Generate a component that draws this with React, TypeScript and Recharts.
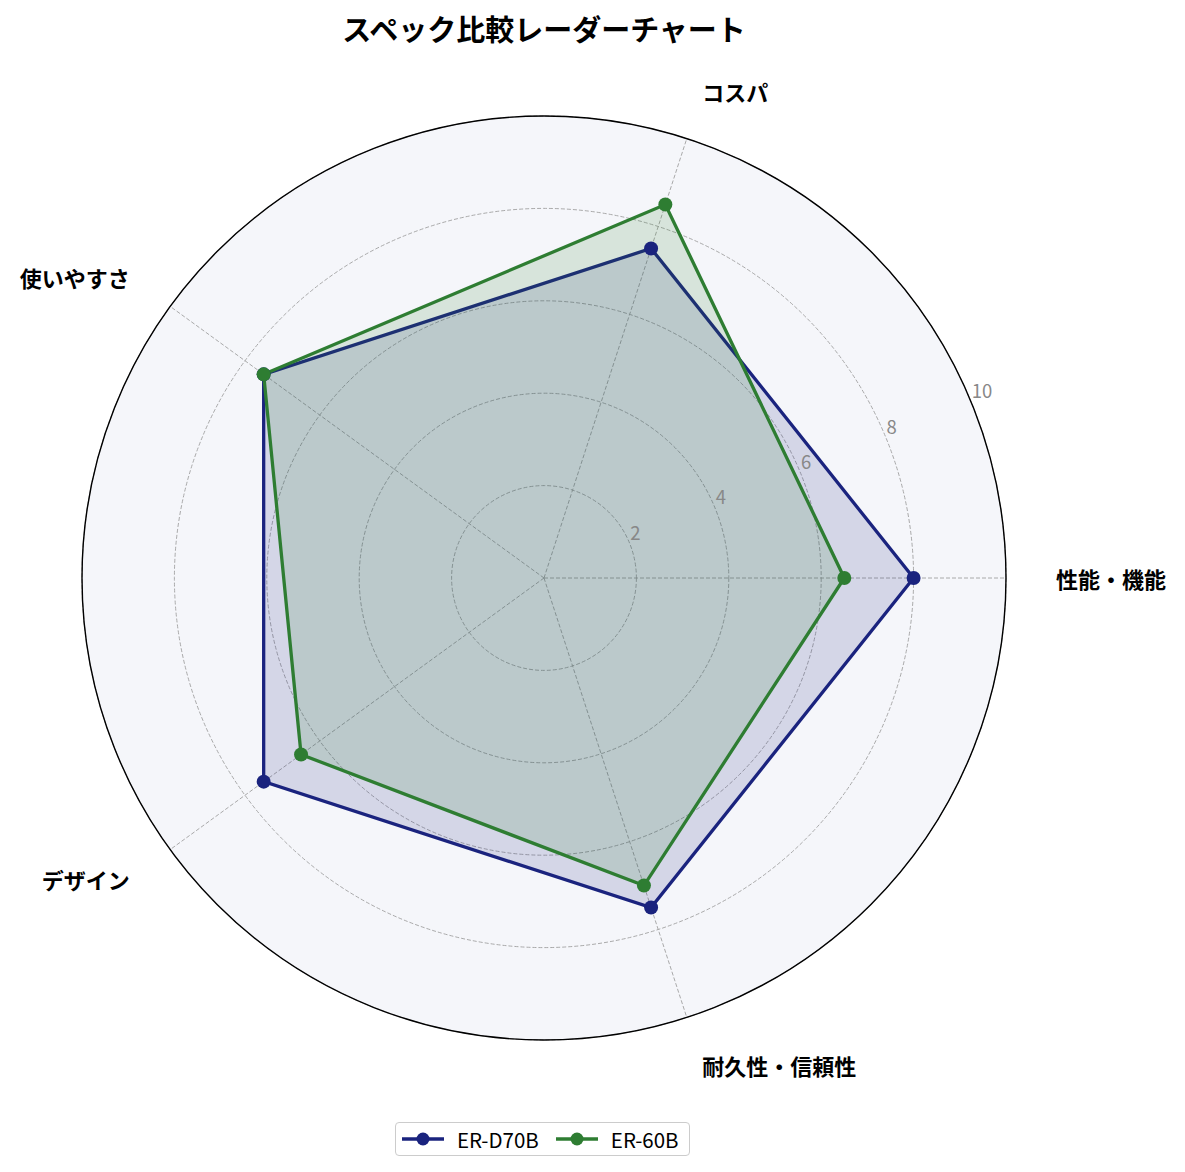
import { RadarChart, Radar, PolarGrid, PolarAngleAxis, PolarRadiusAxis, Legend } from "recharts";

const categories = ["性能・機能", "コスパ", "使いやすさ", "デザイン", "耐久性・信頼性"];
const erD70B = [8, 7.5, 7.5, 7.5, 7.5];
const er60B = [6.5, 8.5, 7.5, 6.5, 7];
const seriesNames = ["ER-D70B", "ER-60B"];
const seriesColors = ["#1a237e", "#2e7d32"];

// Recharts lays categories out clockwise; walk them so the chart reads counter-clockwise from the right
const displayOrder = [0, 4, 3, 2, 1];
const data = displayOrder.map((i) => ({ subject: categories[i], a: erD70B[i], b: er60B[i] }));

const FONT = "'Noto Sans CJK JP', 'Noto Sans', sans-serif";
const CX = 544;
const CY = 578;
const R = 462;

const AngleTick = (props: any) => {
  const { x, y, textAnchor, payload } = props;
  return (
    <text x={x} y={y} textAnchor={textAnchor} dominantBaseline="central"
      fontFamily={FONT} fontWeight="bold" fontSize={22} fill="#000">
      {payload.value}
    </text>
  );
};

const RadiusTick = (props: any) => {
  const { x, y, payload } = props;
  if (payload.value === 0) return null;
  return (
    <text x={x + 1} y={y - 3} textAnchor="start" fontFamily={FONT} fontSize={18.5} fill="#888">
      {payload.value}
    </text>
  );
};

const LegendBox = () => (
  <div style={{
    display: "flex", alignItems: "center", border: "1.5px solid #ccc", borderRadius: 4,
    background: "#fff", padding: "0 10px 0 6px", height: 32, fontFamily: FONT, fontSize: 20.5,
  }}>
    {seriesNames.map((n, i) => (
      <div key={n} style={{ display: "flex", alignItems: "center", marginRight: i === 0 ? 17 : 0 }}>
        <svg width={42} height={16} style={{ marginRight: 13 }}>
          <line x1={0} y1={8} x2={42} y2={8} stroke={seriesColors[i]} strokeWidth={3.3} />
          <circle cx={21} cy={8} r={6.5} fill={seriesColors[i]} />
        </svg>
        <span>{n}</span>
      </div>
    ))}
  </div>
);

export default function App() {
  return (
    <div style={{ position: "absolute", left: 0, top: 0, width: 1185, height: 1172, background: "#fff" }}>
      <div style={{
        position: "absolute", left: CX - R, top: CY - R, width: R * 2, height: R * 2,
        borderRadius: "50%", background: "#f5f6fa",
      }} />
      <div style={{
        position: "absolute", left: 0, top: 10, width: CX * 2, textAlign: "center",
        fontFamily: FONT, fontWeight: "bold", fontSize: 29, lineHeight: "36px",
      }}>
        スペック比較レーダーチャート
      </div>
      <div style={{ position: "absolute", left: 0, top: 0 }}>
        <RadarChart width={1185} height={1172} data={data} cx={CX} cy={CY} outerRadius={R}
          startAngle={0} endAngle={-360}>
          <PolarGrid gridType="circle" stroke="#a0a0a0" strokeDasharray="4 2" strokeWidth={0.9} />
          <PolarRadiusAxis angle={22.5} domain={[0, 10]} tickCount={6} axisLine={false}
            tickLine={false} tick={<RadiusTick />} />
          <Radar name={seriesNames[0]} dataKey="a" stroke={seriesColors[0]} strokeWidth={3.3}
            fill={seriesColors[0]} fillOpacity={0.15} isAnimationActive={false}
            dot={{ r: 7, fill: seriesColors[0], fillOpacity: 1, stroke: "none" }} />
          <Radar name={seriesNames[1]} dataKey="b" stroke={seriesColors[1]} strokeWidth={3.3}
            fill={seriesColors[1]} fillOpacity={0.15} isAnimationActive={false}
            dot={{ r: 7, fill: seriesColors[1], fillOpacity: 1, stroke: "none" }} />
          <PolarAngleAxis dataKey="subject" axisLineType="circle"
            axisLine={{ stroke: "#000", strokeWidth: 1.4, strokeDasharray: "none" }}
            tickLine={false} tickSize={50} tick={<AngleTick />} />
          <Legend content={<LegendBox />}
            wrapperStyle={{ left: 395, top: 1122, width: "auto", bottom: "auto" }} />
        </RadarChart>
      </div>
    </div>
  );
}
